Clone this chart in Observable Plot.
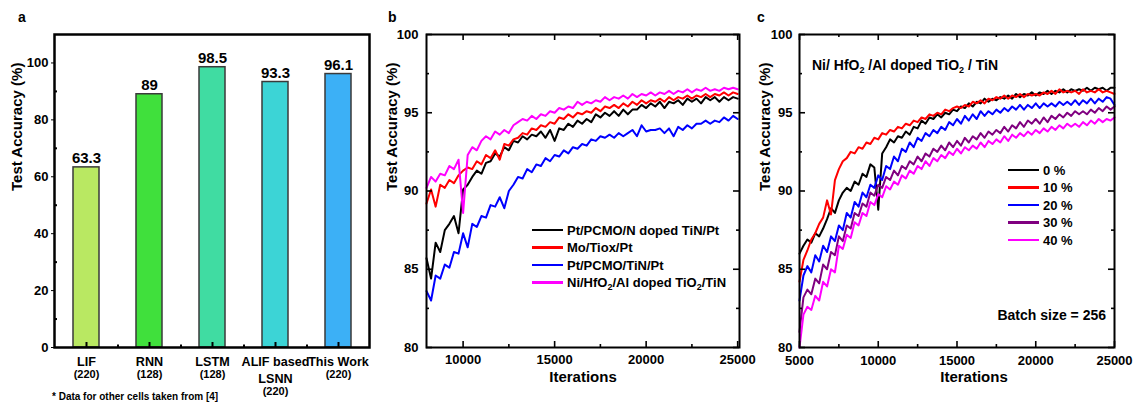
<!DOCTYPE html>
<html>
<head>
<meta charset="utf-8">
<script src="https://cdn.jsdelivr.net/npm/d3@7"></script>
<script src="https://cdn.jsdelivr.net/npm/@observablehq/plot@0.6"></script>
<style>
  html, body { margin: 0; padding: 0; background: #fff; }
  #wrap { position: relative; width: 1137px; height: 403px; overflow: hidden; font-family: "Liberation Sans", Arial, sans-serif; font-weight: bold; color: #000; }
  .abs { position: absolute; white-space: nowrap; }
  .letter { font-size: 14px; }
  .row { position: absolute; height: 18px; display: flex; align-items: center; white-space: nowrap; font-size: 13px; }
  .sw { display: inline-block; width: 31px; height: 2.5px; margin-right: 4px; }
  sub { font-size: 9px; vertical-align: -3px; line-height: 0; }
</style>
</head>
<body>
<div id="wrap">
  <div id="pa" class="abs" style="left:0;top:0"></div>
  <div id="pb" class="abs" style="left:380px;top:0"></div>
  <div id="pc" class="abs" style="left:757px;top:0"></div>
  <div class="abs letter" style="left:18px;top:9px">a</div>
  <div class="abs letter" style="left:388px;top:9px">b</div>
  <div class="abs letter" style="left:757px;top:9px">c</div>
  <div class="abs" style="left:52px;top:391px;font-size:10px">* Data for other cells taken from [4]</div>
  <div id="legB"></div>
  <div id="legC"></div>
  <div class="abs" style="left:812px;top:57px;font-size:14px">Ni/ HfO<sub>2</sub> /Al doped TiO<sub>2</sub> / TiN</div>
  <div class="abs" style="right:31px;top:307px;font-size:14px">Batch size = 256</div>
</div>
<script>
// ---------------- Panel a data ----------------
const barCategories = ["LIF", "RNN", "LSTM", "ALIF based LSNN", "This Work"];
const barLabels = ["LIF", "RNN", "LSTM", "ALIF based\nLSNN", "This Work"];
const barNeurons = ["(220)", "(128)", "(128)", "\n(220)", "(220)"];
const barValues = [63.3, 89, 98.5, 93.3, 96.1];
const barColors = ["#b9e862", "#40e03c", "#40dca2", "#3cd4d6", "#3cb0f6"];

// ---------------- Panel b data (iterations 8000..25000, step 250) ----------------
const iterB = d3.range(8000, 25001, 250);
const namesB = ["Pt/PCMO/N doped TiN/Pt", "Mo/Tiox/Pt", "Pt/PCMO/TiN/Pt", "Ni/HfO2/Al doped TiO2/TiN"];
const colorsB = ["#000000", "#ff0000", "#0000ff", "#ff00ff"];
const accB_NdopedTiN = [
  85.7, 84.4, 86.7, 86.1, 87.5, 87.9, 88.4, 87.3, 90.1, 90.4,
  90.9, 91.3, 91.1, 91.8, 91.9, 92.4, 92.2, 92.8, 92.6, 93.2,
  93.1, 93.5, 93.3, 93.6, 93.5, 93.8, 93.4, 93.9, 93.2, 94.0,
  93.9, 94.3, 94.1, 94.5, 94.3, 94.6, 94.4, 94.9, 94.7, 95.0,
  94.8, 95.1, 94.8, 95.2, 94.9, 95.2, 95.2, 95.5, 95.3, 95.6,
  95.4, 95.7, 95.3, 95.7, 95.6, 95.8, 95.5, 95.9, 95.7, 95.9,
  95.6, 96.0, 95.8, 96.0, 95.7, 96.0, 95.8, 96.0, 95.9];
const accB_MoTiox = [
  89.2, 90.1, 89.0, 90.4, 90.2, 90.7, 90.5, 91.0, 91.3, 91.5,
  91.4, 91.9, 91.7, 92.3, 92.1, 92.6, 92.0, 93.0, 92.9, 93.3,
  93.4, 93.7, 93.6, 94.0, 93.9, 94.2, 94.1, 94.4, 94.3, 94.7,
  94.6, 94.9, 94.7, 95.0, 94.9, 95.1, 95.0, 95.3, 95.1, 95.4,
  95.3, 95.5, 95.3, 95.6, 95.4, 95.7, 95.5, 95.8, 95.6, 95.8,
  95.7, 95.9, 95.7, 96.0, 95.8, 96.0, 95.9, 96.1, 95.9, 96.1,
  96.0, 96.2, 96.0, 96.2, 96.1, 96.3, 96.1, 96.3, 96.2];
const accB_PCMOTiN = [
  83.6, 83.0, 84.6, 84.4, 85.3, 85.1, 86.1, 86.0, 87.3, 86.4,
  87.9, 87.7, 88.4, 88.3, 89.1, 89.0, 89.6, 88.9, 90.0, 90.4,
  90.9, 90.8, 91.4, 91.2, 91.7, 91.6, 92.1, 91.9, 92.3, 92.2,
  92.6, 92.4, 92.8, 92.7, 93.0, 92.9, 93.3, 93.2, 93.5, 93.4,
  93.6, 93.4, 93.7, 93.5, 93.7, 93.9, 93.5, 94.2, 93.8, 93.9,
  93.9, 94.0, 93.7, 94.0, 93.5, 94.1, 93.9, 94.2, 94.0, 94.3,
  94.3, 94.5, 94.3, 94.5, 94.4, 94.7, 94.5, 94.8, 94.6];
const accB_HfO2 = [
  90.2, 90.9, 90.6, 91.1, 91.0, 91.6, 91.4, 92.0, 88.6, 92.3,
  92.8, 92.6, 93.2, 93.5, 93.3, 93.8, 93.6, 93.9, 93.7, 94.2,
  94.4, 94.6, 94.5, 94.8, 94.6, 94.9, 94.8, 95.1, 95.0, 95.3,
  95.2, 95.4, 95.3, 95.7, 95.5, 95.7, 95.6, 95.8, 95.7, 96.0,
  95.8, 96.0, 95.9, 96.1, 95.9, 96.2, 96.0, 96.2, 96.1, 96.3,
  96.1, 96.3, 96.2, 96.4, 96.2, 96.4, 96.3, 96.5, 96.3, 96.5,
  96.4, 96.6, 96.4, 96.5, 96.4, 96.6, 96.5, 96.6, 96.5];

// ---------------- Panel c data (iterations 5000..25000, step 250) ----------------
const iterC = d3.range(5000, 25001, 250);
const namesC = ["0 %", "10 %", "20 %", "30 %", "40 %"];
const colorsC = ["#000000", "#ff0000", "#0000ff", "#800080", "#ff00ff"];
const accC_0 = [
  86.0, 86.5, 86.9, 86.7, 87.3, 87.1, 87.6, 88.2, 88.9, 88.6,
  89.4, 89.9, 90.2, 90.0, 90.6, 90.4, 91.1, 90.9, 91.7, 91.5,
  88.8, 92.4, 92.8, 93.3, 93.1, 93.5, 93.4, 93.8, 93.6, 94.1,
  94.0, 94.5, 94.3, 94.7, 94.6, 94.9, 94.7, 95.0, 94.9, 95.2,
  95.1, 95.4, 95.3, 95.6, 95.4, 95.7, 95.6, 95.9, 95.7, 95.9,
  95.8, 96.0, 95.9, 96.1, 95.9, 96.2, 96.0, 96.2, 96.1, 96.3,
  96.1, 96.3, 96.2, 96.4, 96.2, 96.4, 96.3, 96.5, 96.3, 96.5,
  96.4, 96.5, 96.4, 96.6, 96.4, 96.6, 96.5, 96.6, 96.4, 96.6,
  96.6];
const accC_10 = [
  84.2, 85.6, 86.2, 86.9, 87.3, 87.9, 88.3, 89.4, 88.5, 90.7,
  91.4, 91.9, 92.1, 92.5, 92.4, 92.8, 92.7, 93.1, 93.0, 93.4,
  93.3, 93.7, 93.6, 93.9, 93.8, 94.1, 94.0, 94.3, 94.2, 94.5,
  94.4, 94.7, 94.6, 94.9, 94.8, 95.0, 94.9, 95.2, 95.1, 95.3,
  95.4, 95.3, 95.5, 95.4, 95.7, 95.6, 95.8, 95.6, 95.9, 95.8,
  96.0, 95.9, 96.1, 95.9, 96.1, 96.0, 96.2, 96.0, 96.2, 96.1,
  96.2, 96.1, 96.3, 96.2, 96.4, 96.2, 96.5, 96.3, 96.4, 96.3,
  96.4, 96.2, 96.5, 96.3, 96.4, 96.3, 96.5, 96.3, 96.4, 96.3,
  96.2];
const accC_20 = [
  83.0, 84.6, 85.2, 84.8, 85.9, 85.5, 86.5, 86.1, 87.1, 86.8,
  87.8, 87.5, 88.6, 88.3, 89.3, 89.0, 89.9, 89.6, 90.4, 90.2,
  91.0, 90.7, 91.6, 91.4, 92.2, 91.9, 92.7, 92.5, 93.1, 92.8,
  93.4, 93.2, 93.7, 93.5, 93.9, 93.7, 94.1, 93.9, 94.4, 94.2,
  94.6, 94.3, 94.8, 94.5, 94.9, 94.6, 95.1, 94.8, 95.1, 94.9,
  95.2, 95.0, 95.3, 95.1, 95.4, 95.2, 95.5, 95.2, 95.5, 95.3,
  95.6, 95.3, 95.6, 95.4, 95.6, 95.4, 95.7, 95.5, 95.7, 95.5,
  95.8, 95.5, 95.8, 95.6, 95.9, 95.6, 95.9, 95.7, 96.0, 95.9,
  95.5];
const accC_30 = [
  81.0, 83.2, 83.7, 83.4, 84.4, 84.1, 85.3, 85.0, 86.1, 85.9,
  87.1, 86.8, 87.8, 87.6, 88.6, 88.4, 89.2, 89.0, 89.9, 89.7,
  90.4, 90.2, 90.9, 90.7, 91.3, 91.0, 91.6, 91.4, 91.9, 91.7,
  92.2, 91.9, 92.4, 92.2, 92.7, 92.5, 92.9, 92.6, 93.1, 92.8,
  93.2, 92.9, 93.4, 93.1, 93.5, 93.3, 93.7, 93.4, 93.8, 93.6,
  93.9, 93.7, 94.1, 93.8, 94.2, 94.0, 94.4, 94.1, 94.5, 94.3,
  94.6, 94.3, 94.7, 94.4, 94.8, 94.6, 94.9, 94.7, 95.0, 94.8,
  95.1, 94.9, 95.1, 94.9, 95.2, 95.0, 95.3, 95.1, 95.4, 95.2,
  95.4];
const accC_40 = [
  80.0, 82.1, 82.6, 82.4, 83.3, 83.0, 84.2, 83.9, 85.0, 84.8,
  86.5, 86.3, 87.2, 87.0, 88.0, 87.8, 88.6, 88.4, 89.3, 89.1,
  89.8, 89.6, 90.3, 90.1, 90.6, 90.4, 91.0, 90.8, 91.3, 91.1,
  91.6, 91.4, 91.9, 91.6, 92.1, 91.9, 92.3, 92.1, 92.5, 92.3,
  92.7, 92.4, 92.8, 92.6, 92.9, 92.7, 93.1, 92.8, 93.2, 93.0,
  93.3, 93.1, 93.5, 93.2, 93.6, 93.4, 93.7, 93.5, 93.8, 93.6,
  93.9, 93.7, 94.0, 93.8, 94.1, 93.9, 94.2, 94.0, 94.3, 94.1,
  94.3, 94.1, 94.4, 94.2, 94.5, 94.3, 94.6, 94.4, 94.6, 94.5,
  94.7];

// ---------------- Axis ticks ----------------
const yTicksA = [0, 20, 40, 60, 80, 100];
const yMinorA = [10, 30, 50, 70, 90];
const yTicksBC = [80, 85, 90, 95, 100];
const yMinorBC = [82.5, 87.5, 92.5, 97.5];
const xTicksB = [10000, 15000, 20000, 25000];
const xMinorB = [12500, 17500, 22500];
const xTicksC = [5000, 10000, 15000, 20000, 25000];
const xMinorC = [7500, 12500, 17500, 22500];

const FONT = '"Liberation Sans", Arial, sans-serif';
const baseStyle = {fontFamily: FONT, fontWeight: "bold", fontSize: "13px", color: "#000", background: "#fff", overflow: "visible"};

function tidy(iters, names, arrays) {
  const out = [];
  arrays.forEach((arr, s) => {
    const n = Math.min(arr.length, iters.length);
    for (let i = 0; i < n; i++) out.push({series: names[s], iter: iters[i], acc: arr[i]});
  });
  return out;
}

function frameTicks(xMajor, xMinor, yMajor, yMinor, pw, ph) {
  const sw = 1.6;
  return [
    Plot.tickY(yMajor, {y: d => d, insetRight: pw - 6, strokeWidth: sw}),
    Plot.tickY(yMajor, {y: d => d, insetLeft: pw - 6, strokeWidth: sw}),
    Plot.tickY(yMinor, {y: d => d, insetRight: pw - 3, strokeWidth: sw}),
    Plot.tickY(yMinor, {y: d => d, insetLeft: pw - 3, strokeWidth: sw}),
    Plot.tickX(xMajor, {x: d => d, insetTop: ph - 6, strokeWidth: sw}),
    Plot.tickX(xMajor, {x: d => d, insetBottom: ph - 6, strokeWidth: sw}),
    Plot.tickX(xMinor, {x: d => d, insetTop: ph - 3, strokeWidth: sw}),
    Plot.tickX(xMinor, {x: d => d, insetBottom: ph - 3, strokeWidth: sw})
  ];
}

// ---------------- Panel a ----------------
(function () {
  const W = 380, H = 403, mL = 54, mR = 11, mT = 34, mB = 56;
  const pw = W - mL - mR, ph = H - mT - mB;
  const bars = barCategories.map((c, i) => ({name: c, label: barLabels[i], n: barNeurons[i], value: barValues[i]}));
  const chart = Plot.plot({
    width: W, height: H, marginLeft: mL, marginRight: mR, marginTop: mT, marginBottom: mB,
    style: baseStyle,
    x: {domain: barCategories, paddingInner: 0.59, paddingOuter: 0.295, axis: null},
    y: {domain: [0, 110]},
    color: {domain: barCategories, range: barColors},
    marks: [
      Plot.barY(bars, {x: "name", y: "value", fill: "name", stroke: "#3a3a3a", strokeWidth: 1.5}),
      Plot.text(bars, {x: "name", y: "value", text: d => String(d.value), dy: -4, lineAnchor: "bottom", fontSize: 15}),
      Plot.text(bars, {x: "name", text: "label", frameAnchor: "bottom", dy: 6, lineAnchor: "top", fontSize: 12.6, lineHeight: 1.35}),
      Plot.text(bars, {x: "name", text: "n", frameAnchor: "bottom", dy: 18, lineAnchor: "top", fontSize: 11, lineHeight: 1.55}),
      Plot.tickX(barCategories, {x: d => d, insetTop: ph - 5, strokeWidth: 2}),
      Plot.tickX(barCategories.slice(0, 4), {x: d => d, dx: pw / 10, insetTop: ph - 2.5, strokeWidth: 2}),
      Plot.tickY(yMinorA, {y: d => d, insetRight: pw - 3, strokeWidth: 2}),
      Plot.axisY({ticks: yTicksA, tickSize: 3, tickPadding: 3, tickFormat: d => String(d), label: null, fontSize: 13}),
      Plot.text(["Test Accuracy (%)"], {text: d => d, frameAnchor: "left", dx: -37, rotate: -90, fontSize: 15}),
      Plot.frame({stroke: "#000", strokeWidth: 2.5})
    ]
  });
  document.getElementById("pa").append(chart);
})();

// ---------------- Panel b ----------------
(function () {
  const W = 377, H = 403, mL = 46, mR = 18, mT = 34, mB = 56;
  const pw = W - mL - mR, ph = H - mT - mB;
  const data = tidy(iterB, namesB, [accB_NdopedTiN, accB_MoTiox, accB_PCMOTiN, accB_HfO2]);
  const chart = Plot.plot({
    width: W, height: H, marginLeft: mL, marginRight: mR, marginTop: mT, marginBottom: mB,
    style: baseStyle,
    x: {domain: [8000, 25100]},
    y: {domain: [80, 100]},
    color: {domain: namesB, range: colorsB},
    marks: [
      Plot.line(data, {x: "iter", y: "acc", z: "series", stroke: "series", strokeWidth: 2, strokeLinejoin: "round"}),
      ...frameTicks(xTicksB, xMinorB, yTicksBC, yMinorBC, pw, ph),
      Plot.axisX({ticks: xTicksB, tickSize: 0, tickPadding: 7, tickFormat: d => String(d), label: null, fontSize: 13}),
      Plot.axisY({ticks: yTicksBC, tickSize: 0, tickPadding: 8, tickFormat: d => String(d), label: null, fontSize: 13}),
      Plot.text(["Iterations"], {text: d => d, frameAnchor: "bottom", dy: 34, fontSize: 15}),
      Plot.text(["Test Accuracy (%)"], {text: d => d, frameAnchor: "left", dx: -34, rotate: -90, fontSize: 15}),
      Plot.frame({stroke: "#000", strokeWidth: 2})
    ]
  });
  document.getElementById("pb").append(chart);
})();

// ---------------- Panel c ----------------
(function () {
  const W = 380, H = 403, mL = 42, mR = 23, mT = 34, mB = 56;
  const pw = W - mL - mR, ph = H - mT - mB;
  const data = tidy(iterC, namesC, [accC_0, accC_10, accC_20, accC_30, accC_40]);
  const chart = Plot.plot({
    width: W, height: H, marginLeft: mL, marginRight: mR, marginTop: mT, marginBottom: mB,
    style: baseStyle,
    x: {domain: [5000, 25000]},
    y: {domain: [80, 100]},
    color: {domain: namesC, range: colorsC},
    marks: [
      Plot.line(data, {x: "iter", y: "acc", z: "series", stroke: "series", strokeWidth: 2, strokeLinejoin: "round"}),
      ...frameTicks(xTicksC, xMinorC, yTicksBC, yMinorBC, pw, ph),
      Plot.axisX({ticks: xTicksC, tickSize: 0, tickPadding: 8.5, tickFormat: d => String(d), label: null, fontSize: 13}),
      Plot.axisY({ticks: yTicksBC, tickSize: 0, tickPadding: 7, tickFormat: d => String(d), label: null, fontSize: 13}),
      Plot.text(["Iterations"], {text: d => d, frameAnchor: "bottom", dy: 34, dx: 17, fontSize: 15}),
      Plot.text(["Test Accuracy (%)"], {text: d => d, frameAnchor: "left", dx: -34, rotate: -90, fontSize: 15}),
      Plot.frame({stroke: "#000", strokeWidth: 2})
    ]
  });
  document.getElementById("pc").append(chart);
})();

// ---------------- Legends ----------------
function legend(el, names, colors, htmlNames, left, firstCy, step) {
  const root = document.getElementById(el);
  names.forEach((n, i) => {
    const row = document.createElement("div");
    row.className = "row";
    row.style.left = left + "px";
    row.style.top = (firstCy + i * step - 9) + "px";
    const sw = document.createElement("span");
    sw.className = "sw";
    sw.style.background = colors[i];
    const t = document.createElement("span");
    t.innerHTML = htmlNames ? htmlNames[i] : n;
    row.append(sw, t);
    root.append(row);
  });
}
legend("legB", namesB, colorsB,
  ["Pt/PCMO/N doped TiN/Pt", "Mo/Tiox/Pt", "Pt/PCMO/TiN/Pt", "Ni/HfO<sub>2</sub>/Al doped TiO<sub>2</sub>/TiN"],
  532, 230, 17.5);
legend("legC", namesC, colorsC, null, 1008, 170, 17.5);
</script>
</body>
</html>
